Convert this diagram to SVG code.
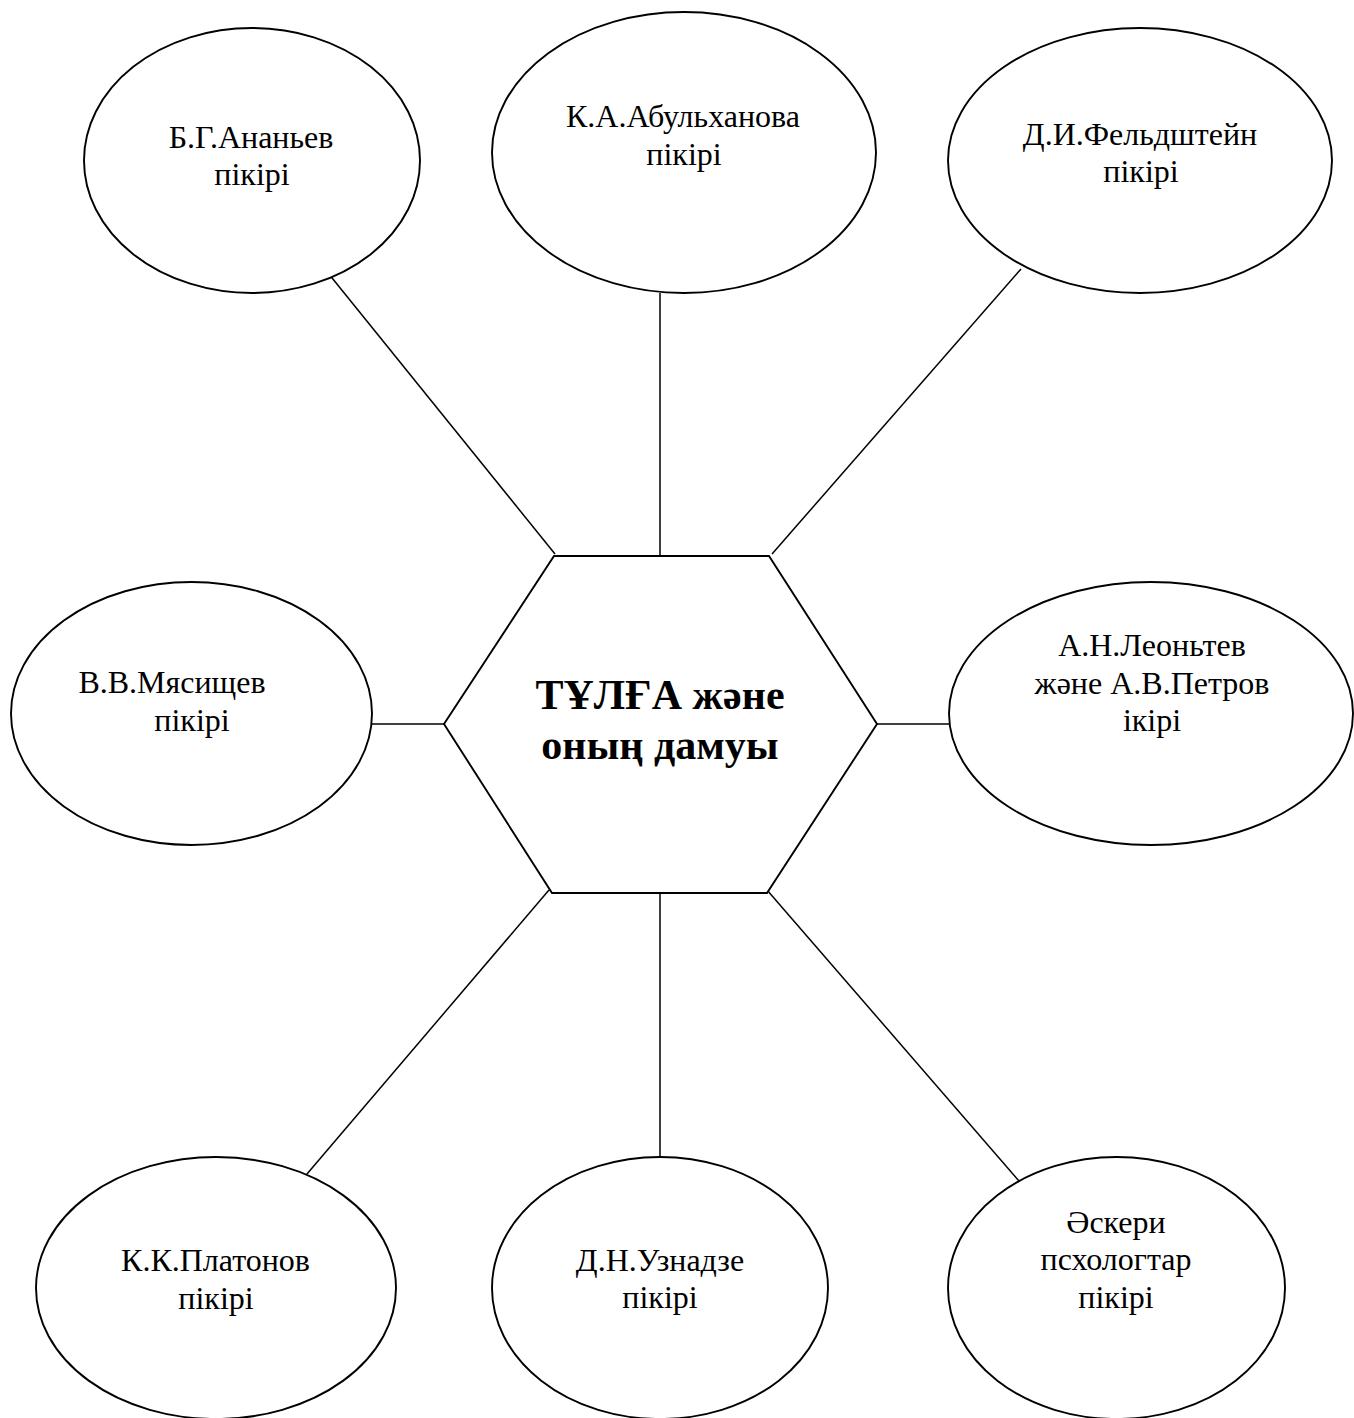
<svg xmlns="http://www.w3.org/2000/svg" width="1354" height="1418" viewBox="0 0 1354 1418">
<style>
.bg{fill:#ffffff}
.node ellipse,.node polygon{fill:#ffffff;stroke:#000000;stroke-width:1.9}
.conn line{stroke:#000000;stroke-width:1.5}
.t{font-family:"Liberation Serif","Times New Roman",serif;font-size:32px;fill:#000000;text-anchor:middle}
.c{font-family:"Liberation Serif","Times New Roman",serif;font-size:42px;font-weight:bold;fill:#000000;text-anchor:middle}
</style>
<rect class="bg" x="0" y="0" width="1354" height="1418"/>
<g id="connectors" class="conn">
<line x1="324" y1="268" x2="555" y2="554"/>
<line x1="660" y1="293" x2="660" y2="556"/>
<line x1="1021" y1="269" x2="772" y2="554"/>
<line x1="372" y1="724" x2="444" y2="724"/>
<line x1="877" y1="724" x2="949" y2="724"/>
<line x1="301" y1="1181" x2="549" y2="890"/>
<line x1="660" y1="893" x2="660" y2="1157"/>
<line x1="1019" y1="1181" x2="767" y2="890"/>
</g>
<g id="center" class="node">
<polygon points="554,556 769,556 877,724 767,893 552,893 444,724"/>
<text class="c" x="660" y="709">ТҰЛҒА және</text>
<text class="c" x="660" y="759">оның дамуы</text>
</g>
<g id="ananyev" class="node">
<ellipse cx="252" cy="160.5" rx="168" ry="132.5"/>
<text class="t" x="251" y="148">Б.Г.Ананьев</text>
<text class="t" x="252" y="185">пікірі</text>
</g>
<g id="abulkhanova" class="node">
<ellipse cx="684" cy="152.5" rx="192" ry="140.5"/>
<text class="t" x="683" y="127">К.А.Абульханова</text>
<text class="t" x="684" y="164.5">пікірі</text>
</g>
<g id="feldshtein" class="node">
<ellipse cx="1140" cy="160.5" rx="192" ry="132.5"/>
<text class="t" x="1140" y="145">Д.И.Фельдштейн</text>
<text class="t" x="1141" y="182">пікірі</text>
</g>
<g id="myasishchev" class="node">
<ellipse cx="191.5" cy="713.5" rx="180.5" ry="131.5"/>
<text class="t" x="172" y="693">В.В.Мясищев</text>
<text class="t" x="192" y="731">пікірі</text>
</g>
<g id="leontev" class="node">
<ellipse cx="1151" cy="713.5" rx="202" ry="131.5"/>
<text class="t" x="1152" y="656">А.Н.Леоньтев</text>
<text class="t" x="1152" y="694">және А.В.Петров</text>
<text class="t" x="1152" y="731">ікірі</text>
</g>
<g id="platonov" class="node">
<ellipse cx="216" cy="1288" rx="180" ry="131"/>
<text class="t" x="215.5" y="1271">К.К.Платонов</text>
<text class="t" x="216" y="1309">пікірі</text>
</g>
<g id="uznadze" class="node">
<ellipse cx="660" cy="1288" rx="168" ry="131"/>
<text class="t" x="660" y="1271">Д.Н.Узнадзе</text>
<text class="t" x="660" y="1308">пікірі</text>
</g>
<g id="military" class="node">
<ellipse cx="1116.5" cy="1288" rx="168.5" ry="131"/>
<text class="t" x="1116" y="1233">Әскери</text>
<text class="t" x="1116" y="1270">псхологтар</text>
<text class="t" x="1116" y="1308">пікірі</text>
</g>
</svg>
